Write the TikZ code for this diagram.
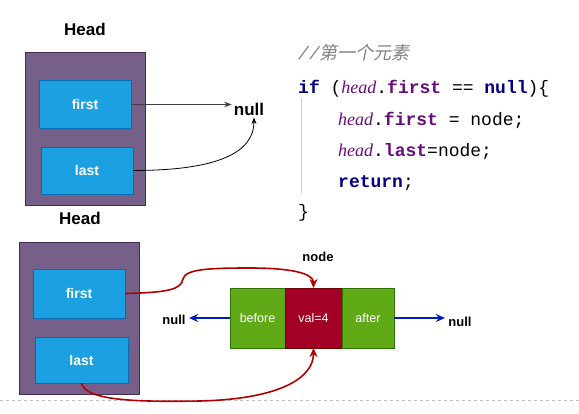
\documentclass[tikz,border=0pt]{standalone}
\usepackage{fontspec}
\setmainfont{Liberation Sans}
\newfontfamily\codefont{Liberation Mono}
\newfontfamily\serifit{Liberation Serif}
\newfontfamily\cjk[FakeSlant=0.2]{Noto Sans CJK SC}
\usepackage{xcolor}
\usetikzlibrary{arrows.meta,positioning}
\definecolor{headfill}{HTML}{76608A}
\definecolor{headdraw}{HTML}{432D57}
\definecolor{ptrfill}{HTML}{1BA1E2}
\definecolor{ptrdraw}{HTML}{006EAF}
\definecolor{linkfill}{HTML}{60A917}
\definecolor{linkdraw}{HTML}{2D7600}
\definecolor{valfill}{HTML}{A20025}
\definecolor{valdraw}{HTML}{6F0000}
\definecolor{redline}{HTML}{B20000}
\definecolor{blueline}{HTML}{001DBC}
\definecolor{kwcol}{HTML}{000080}
\definecolor{fieldcol}{HTML}{660E7A}
\newcommand{\kw}[1]{\textcolor{kwcol}{\bfseries #1}}
\newcommand{\fld}[1]{\textcolor{fieldcol}{\bfseries #1}}
\newcommand{\hd}{\textcolor{fieldcol}{\serifit\itshape head}}

\begin{document}
\begin{tikzpicture}[
    x=1pt, y=-1pt,
    >=Stealth,
    headbox/.style={draw=headdraw, fill=headfill, minimum width=120pt, minimum height=153pt},
    ptrbox/.style={draw=ptrdraw, fill=ptrfill, text=white, font=\fontsize{14}{16}\selectfont\bfseries, minimum width=92pt, minimum height=48pt},
    linkbox/.style={draw=linkdraw, fill=linkfill, text=white, font=\fontsize{12.5}{14}\selectfont, minimum height=60pt, inner sep=0pt, outer sep=0pt},
    headlabel/.style={font=\fontsize{17}{20}\selectfont\bfseries},
    nulllabel/.style={font=\fontsize{13}{15}\selectfont\bfseries},
    codeline/.style={anchor=base west, inner sep=0pt, font=\codefont\fontsize{18}{20}\selectfont},
    redarrow/.style={draw=redline, line width=1.6pt, -{Stealth[length=9pt,width=8pt]}},
    bluearrow/.style={draw=blueline, line width=1.6pt, -{Stealth[length=9pt,width=8pt]}}
]
\useasboundingbox (0,0) rectangle (579,414);

\node[headlabel] (headA) at (85,29) {Head};
\node[headbox] (outerA) at (85,128.5) {};
\node[ptrbox] (firstA) at (85,104.5) {first};
\node[ptrbox, minimum height=47pt] (lastA) at (87,170.5) {last};
\node[font=\fontsize{17}{20}\selectfont\bfseries, inner sep=2pt] (nullA) at (249,109) {null};
\draw[->, black!75, line width=1pt] (firstA.east) -- (firstA.east -| nullA.west);
\draw[->, black, line width=0.8pt] (lastA.east) .. controls +(85,0) and +(0,35) .. ([xshift=5pt]nullA.south);

\node[codeline, text=black!50] (cmt) at (298,60) {\itshape//{\cjk 第一个元素}};
\node[codeline] (line1) at (298,94) {\kw{if} (\hd.\fld{first} == \kw{null})\{};
\node[codeline] (line2) at (338,126) {\hd.\fld{first} = node;};
\node[codeline] (line3) at (338,157) {\hd.\fld{last}=node;};
\node[codeline] (line4) at (338,188) {\kw{return};};
\node[codeline] (line5) at (298,218) {\}};
\draw[black!20, line width=0.8pt] (301,98) -- (301,193);

\node[headlabel] (headB) at (80,218) {Head};
\node[headbox, minimum height=152pt] (outerB) at (79,318) {};
\node[ptrbox, minimum height=49pt] (firstB) at (79,293.5) {first};
\node[ptrbox, minimum width=93pt, minimum height=46pt] (lastB) at (81.5,360) {last};

\node[linkbox, minimum width=55pt] (before) at (257.5,318) {before};
\node[linkbox, draw=valdraw, fill=valfill, minimum width=57pt, right=0pt of before] (val) {val=4};
\node[linkbox, minimum width=52pt, right=0pt of val] (after) {after};
\node[nulllabel] (nodelbl) at (318,257) {node};
\node[nulllabel] (nullL) at (174,320) {null};
\node[nulllabel] (nullR) at (460,322) {null};
\draw[bluearrow] (before.west) -- (before.west -| nullL.east);
\draw[bluearrow] (after.east) -- (after.east -| nullR.west);

\draw[gray!50, dashed, line width=0.8pt] (0,400) -- (579,400);

\draw[redarrow] (firstB.east) .. controls +(45,-1) and +(-2,10) .. (183,279) .. controls +(2,-10) and +(-40,0) .. (250,268) .. controls +(40,0) and +(0,-15) .. (val.north);
\draw[redarrow] (lastB.south) .. controls +(4,18) and +(-60,1) .. (200,401) .. controls +(80,-2) and +(0,30) .. (val.south);
\end{tikzpicture}
\end{document}
